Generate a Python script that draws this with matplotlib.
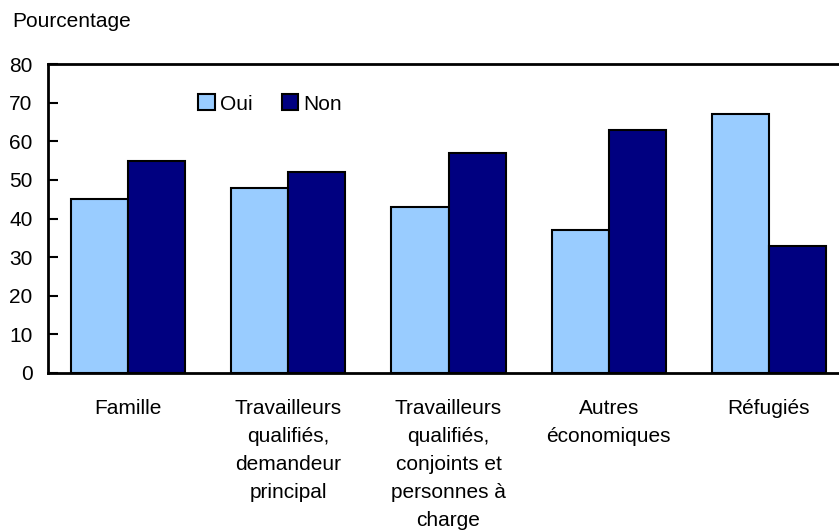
import numpy as np
import matplotlib.pyplot as plt

categories = ['Famille',
              'Travailleurs\nqualifiés,\ndemandeur\nprincipal',
              'Travailleurs\nqualifiés,\nconjoints et\npersonnes à\ncharge',
              'Autres\néconomiques',
              'Réfugiés']
oui = [45, 48, 43, 37, 67]
non = [55, 52, 57, 63, 33]
yticks = [0, 10, 20, 30, 40, 50, 60, 70, 80]

plt.rcParams['font.family'] = ['Liberation Sans', 'DejaVu Sans']
plt.rcParams['font.size'] = 15

fig = plt.figure(figsize=(8.39, 5.31), dpi=100)
# axes runs a bit past the right edge, like the original
ax = fig.add_axes([48/839, (531-373)/531, 801/839, 309/531])

x = np.arange(len(categories))
w = 0.357
ax.bar(x - w/2, oui, w, color='#99CCFF', edgecolor='black', linewidth=1.5, label='Oui')
ax.bar(x + w/2, non, w, color='#000080', edgecolor='black', linewidth=1.5, label='Non')

ax.set_xlim(-0.5, 4.5)
ax.set_ylim(0, 80)
ax.set_yticks(yticks)
ax.set_xticks(x)
ax.set_xticklabels(categories, va='top')
for t in ax.get_xticklabels():
    t.set_linespacing(1.6)
ax.tick_params(axis='x', length=0, pad=18.5)
ax.tick_params(axis='y', direction='in', length=7, width=1.5, pad=11)
for s in ['top', 'left', 'bottom']:
    ax.spines[s].set_linewidth(2)
ax.spines['right'].set_visible(False)

ax.legend(loc='center', bbox_to_anchor=((270-48)/801, (373-104)/309), ncol=2, frameon=False,
          handlelength=0.8, handleheight=0.8, handletextpad=0.25, columnspacing=1.4)

fig.text(12/839, 1 - 27/531, 'Pourcentage', va='baseline', ha='left')

fig.savefig('out.png', dpi=100)
